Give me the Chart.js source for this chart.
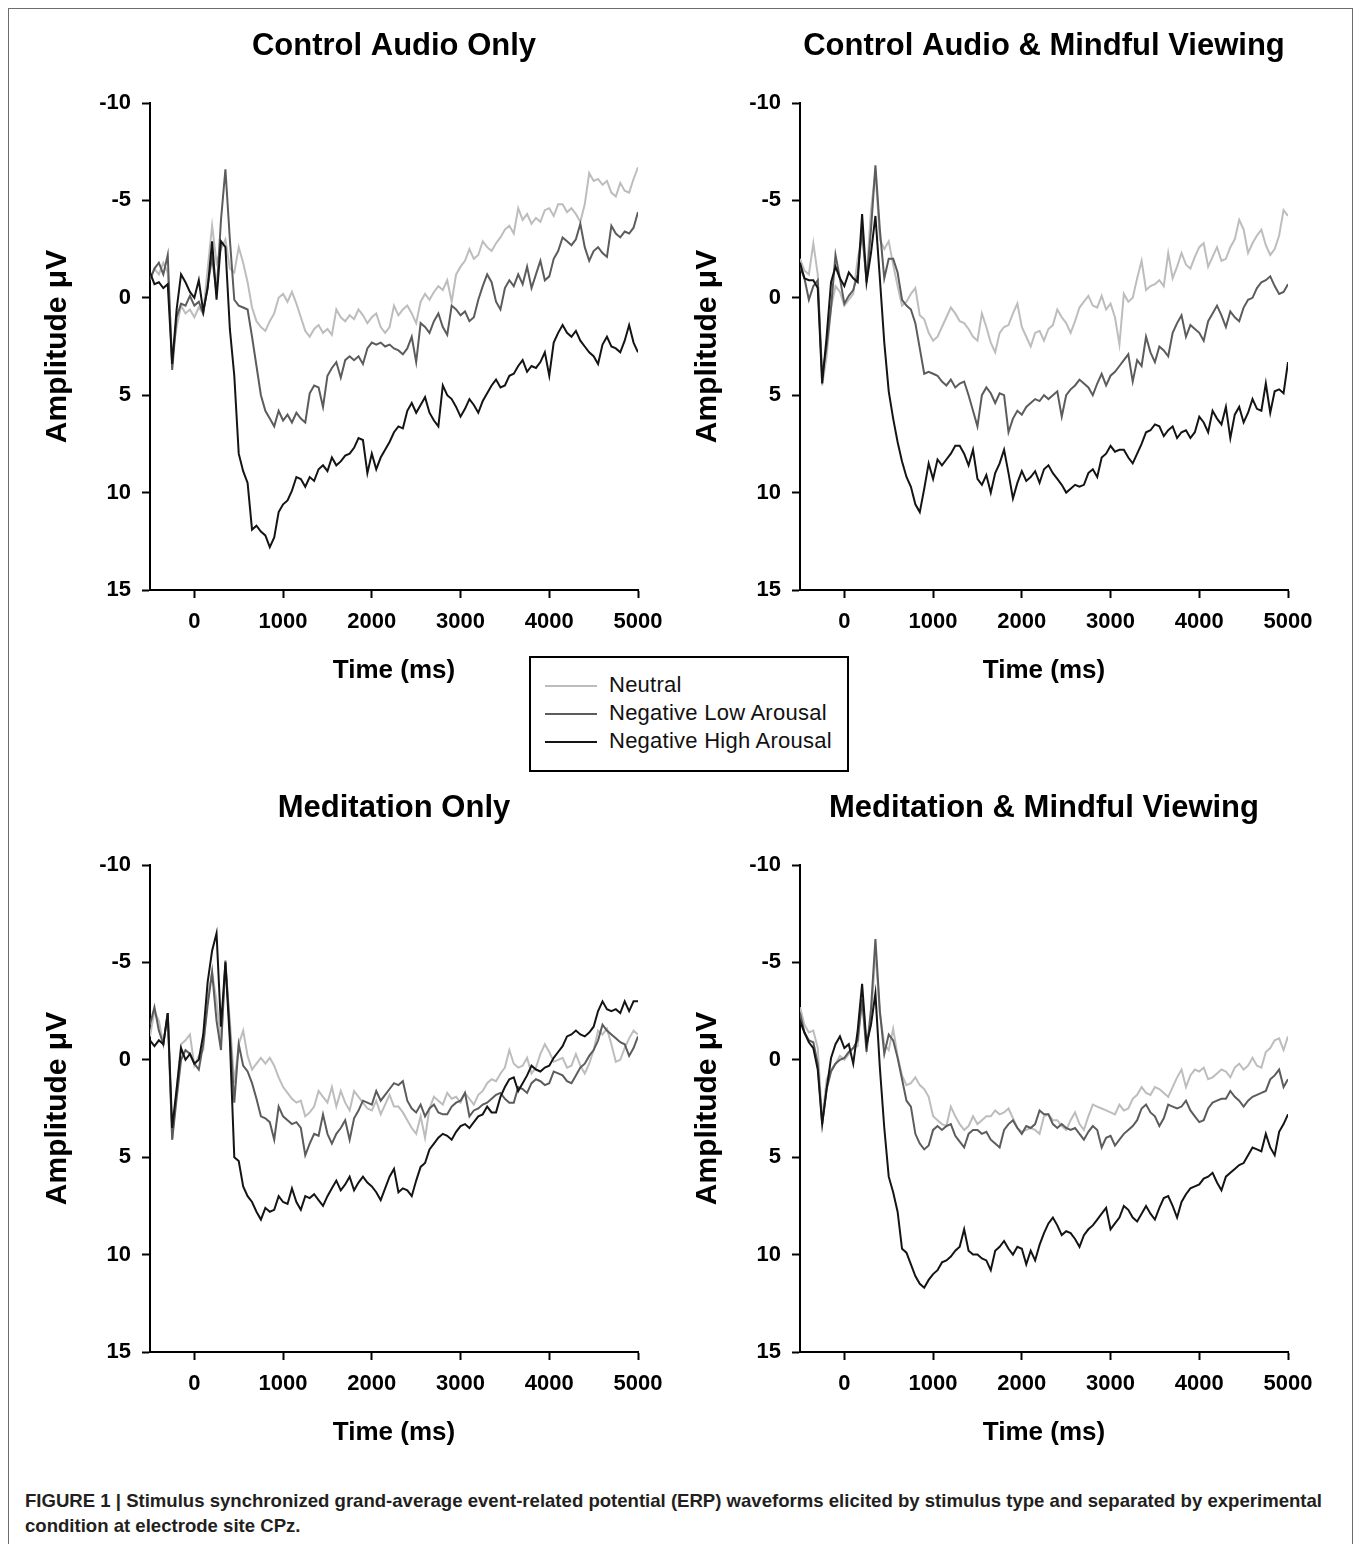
<!DOCTYPE html>
<html>
<head>
<meta charset="utf-8">
<title>ERP waveforms by condition</title>
<script src="https://cdn.jsdelivr.net/npm/chart.js@4.4.1/dist/chart.umd.min.js"></script>
<style>
  body { margin: 0; background: #fff; }
  #page { position: relative; width: 1356px; height: 1544px; overflow: hidden; font-family: "Liberation Sans", Arial, sans-serif; }
  #frame { position: absolute; left: 8px; top: 8px; width: 1343px; height: 1560px; border: 1px solid #6d6d6d; }
  .panel { position: absolute; }
  #legend { position: absolute; left: 529px; top: 656px; width: 316px; height: 112px; border: 2px solid #000; background: #fff; z-index: 5; }
  .leg-item { position: absolute; left: 0; height: 24px; width: 316px; }
  .leg-line { position: absolute; left: 14px; top: 12px; width: 52px; height: 2px; }
  .leg-text { position: absolute; left: 78px; top: 0; font-size: 22px; line-height: 24px; letter-spacing: 0.25px; color: #111; white-space: nowrap; }
  #caption { position: absolute; left: 25px; top: 1488px; font-family: "Liberation Sans", Arial, sans-serif; font-weight: bold; font-size: 19px; line-height: 25px; color: #231f20; white-space: nowrap; transform-origin: 0 0; }
  #caption span { display: block; width: max-content; }
</style>
</head>
<body>
<div id="page">
  <div id="frame"></div>
  <div class="panel" style="left:30px; top:10px;"><canvas id="c1" width="648" height="690"></canvas></div>
  <div class="panel" style="left:680px; top:10px;"><canvas id="c2" width="648" height="690"></canvas></div>
  <div class="panel" style="left:30px; top:772px;"><canvas id="c3" width="648" height="690"></canvas></div>
  <div class="panel" style="left:680px; top:772px;"><canvas id="c4" width="648" height="690"></canvas></div>
  <div id="legend"></div>
  <div id="caption"><span id="cap1">FIGURE 1 | Stimulus synchronized grand-average event-related potential (ERP) waveforms elicited by stimulus type and separated by experimental</span><span>condition at electrode site CPz.</span></div>
</div>
<script>
// time points (ms)
const times = [
  -500,-450,-400,-350,-300,-250,-200,-150,-100,-50,
  0,50,100,150,200,250,300,350,400,450,
  500,550,600,650,700,750,800,850,900,950,
  1000,1050,1100,1150,1200,1250,1300,1350,1400,1450,
  1500,1550,1600,1650,1700,1750,1800,1850,1900,1950,
  2000,2050,2100,2150,2200,2250,2300,2350,2400,2450,
  2500,2550,2600,2650,2700,2750,2800,2850,2900,2950,
  3000,3050,3100,3150,3200,3250,3300,3350,3400,3450,
  3500,3550,3600,3650,3700,3750,3800,3850,3900,3950,
  4000,4050,4100,4150,4200,4250,4300,4350,4400,4450,
  4500,4550,4600,4650,4700,4750,4800,4850,4900,4950,5000
];

const xTicks = [0, 1000, 2000, 3000, 4000, 5000];
const yTicks = [-10, -5, 0, 5, 10, 15];

const seriesNames = ['Neutral', 'Negative Low Arousal', 'Negative High Arousal'];
const seriesColors = ['#bdbdbd', '#5c5c5c', '#141414'];

// Control Audio Only
const ctrlNeutral = [
  -1.0,-1.5,-1.2,-1.8,-1.3,3.0,1.5,0.4,0.8,0.6,
  1.0,0.5,0.8,-1.5,-3.7,-1.8,-2.5,-3.0,-1.5,-1.3,
  -2.6,-1.8,-0.8,0.5,1.2,1.5,1.7,1.2,0.8,0.0,
  -0.2,0.2,-0.3,0.3,1.0,1.7,2.0,1.6,1.4,1.8,
  1.6,1.9,0.6,1.0,1.2,0.9,1.1,0.6,0.9,1.3,
  1.0,0.8,1.5,1.8,1.5,0.4,0.9,0.6,0.4,0.8,
  1.3,0.2,-0.2,0.1,-0.3,-0.6,-0.4,-0.9,0.2,-1.2,
  -1.6,-1.9,-2.5,-2.0,-2.2,-2.9,-2.6,-2.4,-2.8,-3.1,
  -3.5,-3.7,-3.3,-4.6,-4.0,-4.3,-3.8,-4.1,-3.9,-4.5,
  -4.6,-4.2,-4.8,-4.8,-4.4,-4.6,-4.3,-3.9,-4.8,-6.4,
  -6.0,-6.1,-5.8,-6.0,-5.4,-5.2,-5.9,-5.5,-5.4,-6.1,-6.7
];
const ctrlLow = [
  -0.9,-1.5,-1.8,-1.2,-2.2,3.7,1.0,0.3,0.4,-0.1,
  0.4,0.2,0.8,-0.6,-2.1,-0.2,-4.0,-6.6,-3.0,0.1,
  0.4,0.5,0.6,2.0,3.5,5.0,5.8,6.2,6.6,5.8,
  6.3,6.0,6.4,5.9,6.2,6.4,4.9,4.5,4.6,5.6,
  4.0,3.6,3.3,4.1,3.2,3.0,3.2,3.0,3.4,2.6,
  2.3,2.4,2.3,2.5,2.4,2.6,2.7,2.9,2.6,2.0,
  3.3,1.3,1.5,1.8,1.2,0.8,1.5,1.9,0.4,0.6,
  0.9,0.7,1.2,1.0,0.1,-0.6,-1.2,-0.8,0.2,0.6,
  -0.5,-0.9,-0.6,-1.2,-0.7,-1.6,-0.5,-1.2,-1.9,-0.9,
  -1.1,-2.0,-2.4,-3.1,-2.9,-2.7,-3.0,-3.8,-2.6,-1.9,
  -2.4,-2.6,-2.3,-2.1,-3.7,-3.3,-3.1,-3.4,-3.3,-3.6,-4.4
];
const ctrlHigh = [
  -1.3,-0.7,-0.8,-0.5,-0.7,3.4,0.6,-1.2,-0.8,-0.3,
  0.0,-0.9,0.7,-0.5,-2.9,0.1,-2.9,-2.6,1.6,4.0,
  8.0,8.9,9.5,11.9,11.7,12.0,12.2,12.8,12.3,11.0,
  10.6,10.4,9.9,9.2,9.3,9.7,9.2,9.4,8.8,8.6,
  8.9,8.2,8.6,8.4,8.1,8.0,7.7,7.2,7.3,9.0,
  8.0,8.8,8.2,7.8,7.4,6.9,6.6,6.7,5.8,5.4,
  5.9,5.5,5.1,5.9,6.3,6.6,4.5,5.0,5.2,5.6,
  6.1,5.7,5.2,5.5,5.9,5.3,4.9,4.5,4.2,4.6,
  4.5,4.0,3.9,3.5,3.2,3.8,3.5,3.6,3.3,2.8,
  4.0,2.3,1.8,1.4,1.8,2.0,1.7,2.2,2.5,2.8,
  3.0,3.4,2.4,2.0,2.5,2.6,2.8,2.2,1.4,2.3,2.8
];

// Control Audio & Mindful Viewing
const ctrlMvNeutral = [
  -2.0,-1.4,-1.2,-2.8,-1.2,4.5,3.0,0.5,-0.6,-0.3,
  0.4,0.1,-0.2,-2.0,-3.2,-1.0,-4.5,-6.5,-3.0,-2.5,
  -2.9,-1.7,-0.6,0.4,0.2,-0.2,-0.5,0.9,1.1,1.8,
  2.2,2.0,1.5,1.0,0.5,0.8,1.2,1.3,1.6,2.0,
  2.2,0.8,1.5,2.3,2.8,1.8,1.5,1.4,0.8,0.3,
  1.5,2.0,2.5,1.8,1.7,2.2,1.6,1.4,0.6,1.0,
  1.3,1.8,1.2,0.5,0.2,-0.1,0.4,0.5,-0.1,0.6,
  0.3,1.0,2.4,-0.2,0.2,0.0,-1.0,-1.9,-0.4,-0.6,
  -0.7,-0.9,-0.6,-2.3,-1.0,-1.6,-2.3,-1.7,-1.5,-2.1,
  -2.6,-2.8,-1.6,-2.1,-2.6,-1.9,-2.0,-2.6,-3.0,-4.0,
  -3.5,-2.3,-2.8,-3.2,-3.5,-2.7,-2.2,-2.5,-3.2,-4.5,-4.2
];
const ctrlMvLow = [
  -1.6,-1.0,0.1,-0.6,-0.9,4.0,2.5,0.5,-2.2,-1.0,
  0.3,-0.1,-0.4,-1.2,-3.5,-0.8,-3.5,-6.8,-3.5,-1.0,
  -2.0,-2.0,-1.3,0.1,0.4,0.6,1.3,2.6,3.9,3.8,
  3.9,4.0,4.3,4.5,4.2,4.6,4.4,4.3,5.0,5.8,
  6.6,5.0,4.6,4.9,5.4,4.9,5.0,6.9,6.2,5.8,
  6.0,5.6,5.4,5.2,5.3,5.0,5.2,5.0,4.8,6.1,
  5.0,4.7,4.5,4.2,4.4,4.6,5.0,4.4,3.9,4.5,
  4.0,3.8,3.5,3.2,2.9,4.3,3.2,3.5,2.0,2.8,
  3.3,2.5,2.7,3.0,1.8,1.3,0.9,2.0,1.4,1.6,
  1.8,2.2,1.2,0.8,0.4,0.9,1.5,0.7,1.0,1.2,
  0.5,0.1,0.0,-0.5,-0.8,-0.9,-1.1,-0.6,-0.2,-0.3,-0.7
];
const ctrlMvHigh = [
  -1.8,-1.0,-0.9,-0.9,-0.5,4.4,2.0,-0.8,-1.6,-1.0,
  -0.6,-1.3,-1.0,-0.8,-4.3,-0.8,-2.3,-4.2,-1.0,2.3,
  4.8,6.2,7.4,8.4,9.2,9.7,10.6,11.0,9.8,8.5,
  9.3,8.3,8.6,8.3,8.0,7.6,7.6,8.0,8.6,7.8,
  9.3,9.6,9.1,10.0,9.0,8.5,7.8,9.0,10.3,9.5,
  8.9,9.4,9.2,8.9,9.5,8.8,8.6,9.0,9.3,9.6,
  10.0,9.8,9.6,9.7,9.6,9.0,8.8,9.2,8.2,8.0,
  7.6,7.9,7.8,7.8,8.2,8.5,8.0,7.5,6.9,6.8,
  6.5,6.6,7.1,6.8,6.6,7.2,6.9,6.8,7.2,6.9,
  6.1,6.4,6.9,5.8,6.2,6.5,5.6,7.2,6.0,5.6,
  6.4,5.9,5.2,5.7,5.8,4.4,5.9,4.8,4.7,4.9,3.3
];

// Meditation Only
const medNeutral = [
  -1.2,-2.5,-2.0,-0.8,-2.4,4.1,1.5,-0.8,-1.0,-1.3,
  0.3,-0.2,-0.5,-3.2,-4.5,-3.0,-1.0,-4.8,-2.0,1.2,
  -0.8,-1.5,-0.2,0.5,0.2,-0.1,0.2,-0.1,0.3,0.9,
  1.4,1.7,2.0,2.2,2.1,2.9,2.7,2.4,1.6,1.9,
  2.2,1.4,2.4,1.6,2.2,2.6,1.6,1.9,2.2,2.5,
  2.6,2.1,2.8,2.3,1.8,2.4,2.4,2.7,3.1,3.5,
  3.8,2.9,4.0,2.5,1.9,2.1,2.3,1.7,2.0,1.9,
  2.2,1.7,2.0,2.3,1.8,1.6,1.2,1.0,1.1,0.7,
  0.4,-0.5,0.2,0.4,0.3,-0.1,0.7,0.4,-0.3,-0.8,
  -0.4,0.1,0.0,-0.1,0.4,0.3,-0.3,0.3,0.7,0.2,
  -0.5,-1.5,-1.3,-1.6,-0.8,0.1,0.0,-0.6,-1.1,-1.5,-1.3
];
const medLow = [
  -1.8,-2.7,-1.5,-0.8,-2.4,4.1,2.0,0.0,-0.5,-0.3,
  0.2,0.5,-0.8,-2.8,-4.5,-2.0,-0.5,-5.1,-1.5,2.2,
  -0.8,0.3,0.6,1.2,2.0,2.9,3.0,3.2,4.1,2.4,
  2.9,3.1,3.3,3.2,3.5,4.9,4.3,3.8,3.9,2.8,
  3.8,4.3,3.8,3.5,3.1,4.1,3.0,2.6,2.1,2.2,
  2.3,1.6,2.1,1.8,1.5,1.2,1.3,1.1,2.1,2.5,
  2.7,2.3,2.9,2.5,2.3,2.7,2.8,2.8,2.4,2.2,
  2.1,1.7,2.9,2.6,2.5,2.3,2.2,2.0,1.8,1.7,
  2.0,2.2,2.2,1.4,1.5,1.7,1.2,1.0,1.1,1.3,
  1.2,0.6,0.7,0.8,1.1,1.2,0.8,0.4,0.2,-0.2,
  -0.5,-1.0,-1.8,-1.5,-1.3,-1.1,-0.9,-0.8,-0.2,-0.6,-1.2
];
const medHigh = [
  -1.0,-0.7,-1.0,-0.8,-2.4,3.5,1.5,-0.6,0.0,-0.3,
  0.2,0.0,-1.3,-4.0,-5.6,-6.5,-1.7,-5.0,-1.0,5.0,
  5.2,6.5,7.0,7.3,7.8,8.2,7.6,7.8,7.7,7.0,
  7.3,7.4,6.6,7.3,7.7,7.0,7.1,6.9,7.2,7.5,
  7.0,6.6,6.2,6.7,6.4,6.0,6.7,6.3,6.0,6.3,
  6.5,6.8,7.2,6.6,6.0,5.6,6.8,6.6,6.7,7.0,
  6.2,5.5,5.3,4.6,4.3,4.0,3.8,3.9,4.1,3.7,
  3.4,3.3,3.5,3.2,2.9,2.8,2.4,2.7,2.7,1.9,
  1.4,1.0,0.9,1.6,1.2,0.8,0.3,0.5,0.6,0.4,
  0.3,-0.1,-0.4,-0.7,-1.2,-1.3,-1.5,-1.3,-1.2,-1.4,
  -1.7,-2.5,-3.0,-2.6,-2.5,-2.6,-2.4,-3.0,-2.5,-3.0,-3.0
];

// Meditation & Mindful Viewing
const medMvNeutral = [
  -2.7,-1.8,-1.4,-1.5,-0.6,3.1,1.0,0.5,0.2,-0.2,
  0.0,-0.3,-0.6,-0.7,-3.3,-0.6,-2.0,-5.6,-2.4,-0.8,
  -0.5,-1.6,-0.2,0.8,1.3,1.2,0.9,1.3,1.5,1.9,
  2.9,3.1,3.3,3.4,2.4,2.9,3.3,3.6,3.4,2.9,
  3.3,3.1,2.9,2.9,2.6,2.8,2.7,2.5,3.0,3.5,
  3.7,3.6,3.5,3.6,3.8,2.9,2.8,3.1,3.1,3.4,
  3.6,3.1,2.7,3.3,3.6,2.9,2.3,2.4,2.5,2.6,
  2.7,2.8,2.3,2.6,2.5,2.0,1.8,1.4,1.7,1.8,
  1.4,1.5,1.7,1.9,1.4,0.9,0.5,1.4,0.8,0.5,
  0.6,0.4,1.0,0.9,0.7,0.5,0.6,0.9,0.4,0.2,
  0.5,0.3,-0.1,0.3,0.4,-0.4,-0.6,-1.0,-1.1,-0.5,-1.2
];
const medMvLow = [
  -2.4,-1.4,-1.0,-0.9,0.2,3.3,1.5,0.6,0.2,0.0,
  -0.1,-0.4,-0.6,-1.0,-3.1,-0.4,-2.6,-6.2,-2.5,-0.3,
  -1.3,-1.0,-0.1,1.0,2.1,2.4,3.8,4.3,4.6,4.4,
  3.6,3.4,3.6,3.4,3.3,3.9,4.2,4.5,3.8,3.6,
  3.6,3.8,3.7,4.1,4.3,4.5,3.6,3.3,3.1,3.5,
  3.8,3.4,3.5,3.3,2.6,2.8,2.8,3.3,3.5,3.3,
  3.5,3.6,3.5,3.8,4.1,3.7,3.4,3.6,4.5,4.0,
  3.9,4.4,4.1,3.8,3.6,3.4,3.1,2.5,2.3,2.7,
  2.9,3.4,3.0,2.3,2.4,2.5,2.4,2.1,2.6,2.9,
  3.2,3.1,2.5,2.2,2.1,2.0,2.0,1.6,1.9,2.1,
  2.4,2.1,1.9,1.8,1.7,1.6,1.0,0.8,0.5,1.4,1.0
];
const medMvHigh = [
  -2.0,-1.4,-0.9,-0.6,0.5,3.3,1.5,-0.1,-0.8,-1.2,
  -0.6,-0.8,0.2,-1.5,-3.9,-0.8,-1.8,-3.4,0.4,3.5,
  6.0,6.8,7.8,9.7,9.9,10.5,11.1,11.5,11.7,11.3,
  11.0,10.8,10.4,10.3,10.1,9.8,9.6,8.7,9.8,10.0,
  10.0,10.2,10.3,10.8,9.8,9.6,9.3,9.7,10.0,9.6,
  9.7,10.5,9.8,10.3,9.5,8.9,8.4,8.1,8.5,9.0,
  8.8,8.9,9.2,9.6,9.0,8.7,8.5,8.2,7.9,7.6,
  8.7,8.4,8.1,7.5,7.7,8.1,8.3,7.9,7.5,7.9,
  8.2,7.6,7.1,7.0,7.5,8.1,7.3,6.9,6.6,6.5,
  6.4,6.1,6.0,5.8,6.3,6.7,6.0,5.8,5.6,5.4,
  5.3,4.9,4.5,4.6,4.7,3.8,4.5,4.9,3.7,3.3,2.8
];

const FONT = '"Liberation Sans", Arial, sans-serif';
Chart.defaults.font.family = FONT;
Chart.defaults.color = '#000';

function buildDatasets(series) {
  return series.map(function(vals, i) {
    return {
      label: seriesNames[i],
      data: times.map(function(t, k) { return { x: t, y: vals[k] }; }),
      borderColor: seriesColors[i],
      backgroundColor: seriesColors[i],
      borderWidth: 2,
      pointRadius: 0,
      tension: 0,
      order: 3 - i // black line on top
    };
  });
}

function makePanel(canvasId, title, series) {
  const ctx = document.getElementById(canvasId).getContext('2d');
  return new Chart(ctx, {
    type: 'line',
    data: { datasets: buildDatasets(series) },
    options: {
      responsive: false,
      animation: false,
      events: [],
      // right padding must cover half the "5000" label plus the tick padding
      layout: { padding: { left: 0, right: 40, top: 0, bottom: 0 } },
      plugins: {
        legend: { display: false },
        tooltip: { enabled: false },
        title: {
          display: true,
          text: title,
          fullSize: false,
          color: '#000',
          font: { size: 31, weight: 'bold', lineHeight: 1.2 },
          padding: { top: 18, bottom: 37.8 }
        }
      },
      scales: {
        x: {
          type: 'linear',
          min: -500,
          max: 5000,
          afterBuildTicks: function(scale) { scale.ticks = xTicks.map(function(v) { return { value: v }; }); },
          afterFit: function(scale) { scale.height = 110; },
          ticks: {
            color: '#000',
            padding: 11,
            maxRotation: 0,
            autoSkip: false,
            font: { size: 22, weight: 'bold' },
            callback: function(v) { return String(v); }
          },
          grid: { drawOnChartArea: false, tickLength: 8, tickColor: '#000', tickWidth: 2 },
          border: { color: '#000', width: 2 },
          title: {
            display: true,
            text: 'Time (ms)',
            color: '#000',
            font: { size: 26, weight: 'bold', lineHeight: 1.2 },
            padding: { top: 0, bottom: 14 }
          }
        },
        y: {
          reverse: true,
          min: -10,
          max: 15,
          afterBuildTicks: function(scale) { scale.ticks = yTicks.map(function(v) { return { value: v }; }); },
          afterFit: function(scale) { scale.width = 120; },
          ticks: {
            color: '#000',
            padding: 11,
            font: { size: 22, weight: 'bold' },
            callback: function(v) { return String(v); }
          },
          grid: { drawOnChartArea: false, tickLength: 8, tickColor: '#000', tickWidth: 2 },
          border: { color: '#000', width: 2 },
          title: {
            display: true,
            text: 'Amplitude \u03bcV',
            color: '#000',
            font: { size: 30, weight: 'bold', lineHeight: 1.2 },
            padding: { top: 10, bottom: 0 }
          }
        }
      }
    }
  });
}

makePanel('c1', 'Control Audio Only', [ctrlNeutral, ctrlLow, ctrlHigh]);
makePanel('c2', 'Control Audio & Mindful Viewing', [ctrlMvNeutral, ctrlMvLow, ctrlMvHigh]);
makePanel('c3', 'Meditation Only', [medNeutral, medLow, medHigh]);
makePanel('c4', 'Meditation & Mindful Viewing', [medMvNeutral, medMvLow, medMvHigh]);

// shared legend box
const legend = document.getElementById('legend');
seriesNames.forEach(function(name, i) {
  const item = document.createElement('div');
  item.className = 'leg-item';
  item.style.top = (15 + i * 28) + 'px';
  const line = document.createElement('div');
  line.className = 'leg-line';
  line.style.background = seriesColors[i];
  const txt = document.createElement('div');
  txt.className = 'leg-text';
  txt.textContent = name;
  item.appendChild(line);
  item.appendChild(txt);
  legend.appendChild(item);
});

// condensed caption: squeeze the first line to the figure width
const cap = document.getElementById('caption');
const w1 = document.getElementById('cap1').getBoundingClientRect().width;
cap.style.transform = 'scaleX(' + (1297 / w1).toFixed(4) + ')';
</script>
</body>
</html>
